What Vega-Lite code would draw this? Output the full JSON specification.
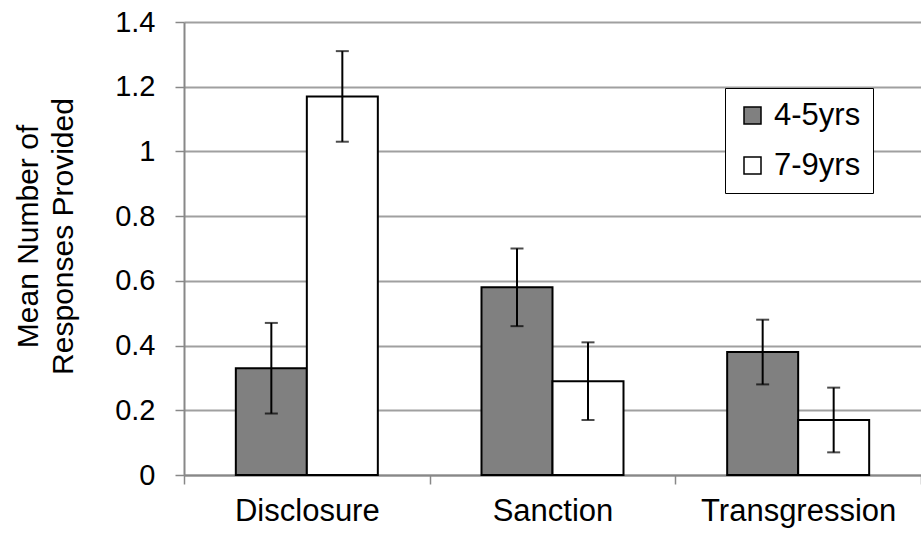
{
  "$schema": "https://vega.github.io/schema/vega-lite/v6.json",
  "width": 737,
  "height": 453,
  "autosize": {"type": "none"},
  "padding": {"left": 184, "top": 22, "right": 0, "bottom": 61},
  "background": "white",
  "config": {
    "view": {"stroke": null},
    "font": "Liberation Sans",
    "tick": {"thickness": 2}
  },
  "data": {
    "values": [
      {"category": "Disclosure", "group": "4-5yrs", "mean": 0.33, "lo": 0.19, "hi": 0.47},
      {"category": "Disclosure", "group": "7-9yrs", "mean": 1.17, "lo": 1.03, "hi": 1.31},
      {"category": "Sanction", "group": "4-5yrs", "mean": 0.58, "lo": 0.46, "hi": 0.70},
      {"category": "Sanction", "group": "7-9yrs", "mean": 0.29, "lo": 0.17, "hi": 0.41},
      {"category": "Transgression", "group": "4-5yrs", "mean": 0.38, "lo": 0.28, "hi": 0.48},
      {"category": "Transgression", "group": "7-9yrs", "mean": 0.17, "lo": 0.07, "hi": 0.27}
    ]
  },
  "encoding": {
    "x": {
      "field": "category",
      "type": "nominal",
      "sort": ["Disclosure", "Sanction", "Transgression"],
      "scale": {"paddingInner": 0, "paddingOuter": 0},
      "axis": {
        "title": null,
        "labelAngle": 0,
        "labelFontSize": 31,
        "labelColor": "black",
        "labelPadding": 12,
        "labelLimit": 400,
        "labelOverlap": false,
        "tickBand": "extent",
        "tickSize": 9,
        "tickWidth": 1.5,
        "tickColor": "#888888",
        "domainColor": "#888888",
        "domainWidth": 2,
        "grid": false
      }
    },
    "xOffset": {
      "field": "group",
      "type": "nominal",
      "scale": {"paddingInner": 0, "paddingOuter": 0.73}
    }
  },
  "layer": [
    {
      "mark": {"type": "bar", "stroke": "black", "strokeWidth": 2},
      "encoding": {
        "y": {
          "field": "mean",
          "type": "quantitative",
          "scale": {"domain": [0, 1.4], "nice": false},
          "axis": {
            "title": ["Mean Number of", "Responses Provided"],
            "titleFontSize": 30,
            "titleFontWeight": "normal",
            "titleColor": "black",
            "titlePadding": 36,
            "titleLineHeight": 35,
            "titleY": 214,
            "values": [0, 0.2, 0.4, 0.6, 0.8, 1.0, 1.2, 1.4],
            "format": ".1~f",
            "labelFontSize": 29,
            "labelColor": "black",
            "labelPadding": 20,
            "tickSize": 9,
            "tickWidth": 1.5,
            "tickColor": "#888888",
            "domainColor": "#888888",
            "domainWidth": 2,
            "gridColor": "#a0a0a0",
            "gridWidth": 2
          }
        },
        "fill": {
          "field": "group",
          "type": "nominal",
          "scale": {"domain": ["4-5yrs", "7-9yrs"], "range": ["#808080", "#ffffff"]},
          "legend": {
            "title": null,
            "orient": "none",
            "legendX": 541,
            "legendY": 66,
            "symbolType": "square",
            "symbolSize": 289,
            "symbolStrokeColor": "black",
            "symbolStrokeWidth": 1.5,
            "symbolOpacity": 1,
            "labelFontSize": 31,
            "labelColor": "black",
            "labelOffset": 6,
            "rowPadding": 18,
            "padding": 12,
            "strokeColor": "black",
            "fillColor": "white"
          }
        }
      }
    },
    {
      "mark": {"type": "rule", "color": "black", "strokeWidth": 2},
      "encoding": {
        "y": {"field": "lo", "type": "quantitative"},
        "y2": {"field": "hi"}
      }
    },
    {
      "mark": {"type": "tick", "color": "black", "size": 13, "thickness": 2},
      "encoding": {"y": {"field": "lo", "type": "quantitative"}}
    },
    {
      "mark": {"type": "tick", "color": "black", "size": 13, "thickness": 2},
      "encoding": {"y": {"field": "hi", "type": "quantitative"}}
    }
  ]
}
